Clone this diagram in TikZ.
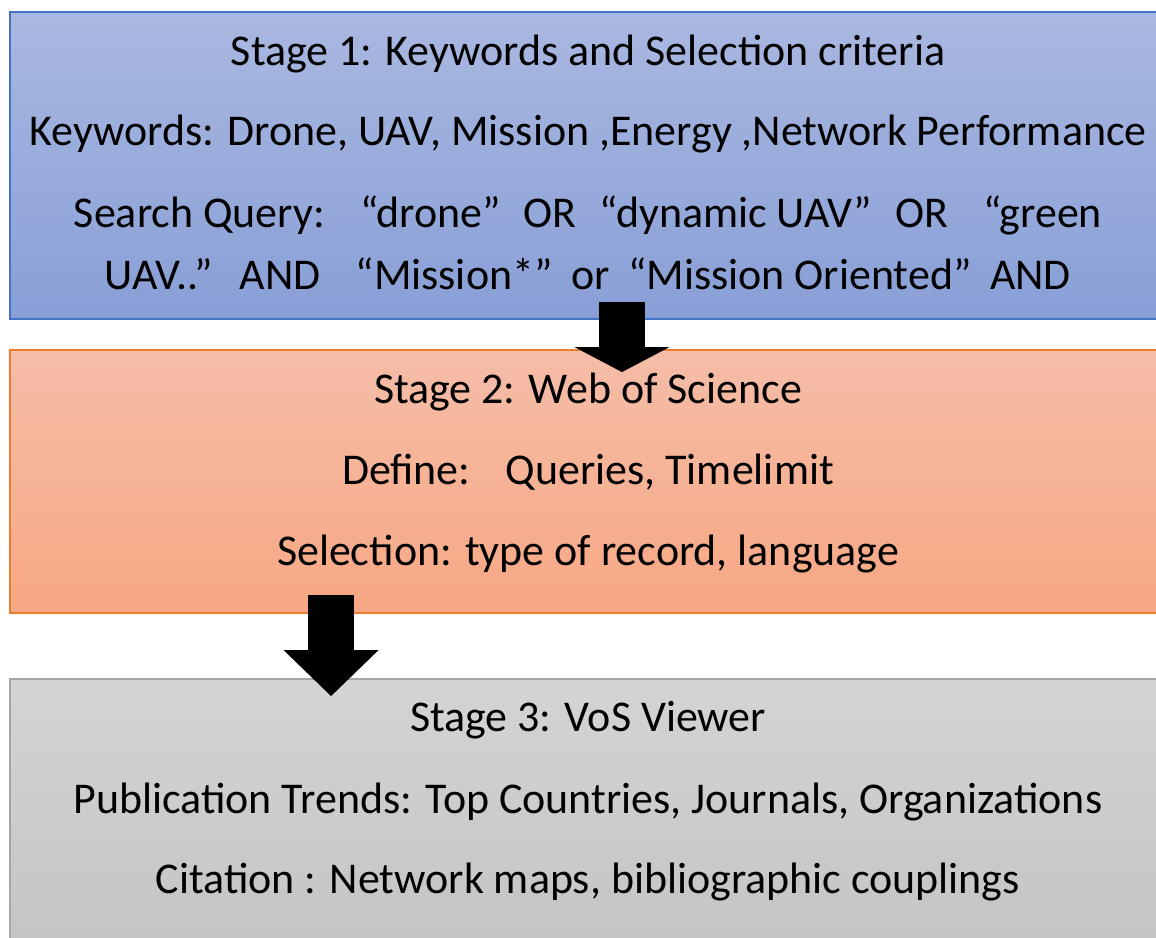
\documentclass[tikz,border=0pt]{standalone}
\usepackage{fontspec}
\setmainfont{Carlito}
\usepackage{tikz}
\usetikzlibrary{arrows.meta, positioning}
\definecolor{stageBline}{HTML}{4472C4}
\definecolor{stageBtop}{HTML}{AAB8E1}
\definecolor{stageBbot}{HTML}{889FD6}
\definecolor{stageOline}{HTML}{ED7D31}
\definecolor{stageOtop}{HTML}{F5BDA8}
\definecolor{stageObot}{HTML}{F7A783}
\definecolor{stageGline}{HTML}{A5A5A5}
\definecolor{stageGtop}{HTML}{D4D4D4}
\definecolor{stageGbot}{HTML}{C4C4C4}

\begin{document}
\begin{tikzpicture}[x=0.02cm, y=-0.02cm,
    stagebox/.style = {rectangle, line width=1.1pt, inner sep=0pt, minimum width=23.12cm},
    stagetext/.style = {anchor=base, inner sep=0pt, font=\fontsize{25}{30}\selectfont},
    blockarrow/.style = {line width=0.92cm, -{Triangle[length=#1, width=1.9cm, line width=0pt]}}]
  \def\boxX{588}
  \def\gapA{\hspace{0.8em}}

  \useasboundingbox (0, 0) rectangle (1156, 937);

  % ------------------------
  % stage boxes
  % ------------------------

  \node[stagebox, draw = stageBline, top color = stageBtop, bottom color = stageBbot,
        minimum height = 6.14cm] (stage1) at (\boxX, 165.5) {};
  \node[stagebox, draw = stageOline, top color = stageOtop, bottom color = stageObot,
        minimum height = 5.26cm] (stage2) at (\boxX, 481.5) {};
  \node[stagebox, draw = stageGline, top color = stageGtop, bottom color = stageGbot,
        minimum height = 5.40cm] (stage3) at (\boxX, 814) {};

  % ------------------------
  % stage texts
  % ------------------------

  \node[stagetext] (s1title) at (\boxX, 65) {Stage 1: Keywords and Selection criteria};
  \node[stagetext] (s1keys) at (\boxX, 145) {Keywords: Drone, UAV, Mission ,Energy ,Network Performance};
  \node[stagetext] (s1queryA) at (\boxX, 227)
    {Search Query:\gapA “drone”\hspace{0.3em} OR\hspace{0.3em} “dynamic UAV”\hspace{0.3em} OR\gapA “green};
  \node[stagetext] (s1queryB) at (\boxX, 289)
    {UAV..”\hspace{0.3em} AND\gapA “Mission*”\hspace{0.2em} or\hspace{0.2em} “Mission Oriented”\hspace{0.2em} AND};

  \node[stagetext] (s2title) at (\boxX, 403) {Stage 2: Web of Science};
  \node[stagetext] (s2define) at (\boxX, 484) {Define:\gapA Queries, Timelimit};
  \node[stagetext] (s2select) at (\boxX, 565) {Selection: type of record, language};

  \node[stagetext] (s3title) at (\boxX, 731) {Stage 3: VoS Viewer};
  \node[stagetext] (s3trends) at (\boxX, 813) {Publication Trends: Top Countries, Journals, Organizations};
  \node[stagetext] (s3cite) at (\boxX, 893) {Citation : Network maps, bibliographic couplings};

  % ------------------------
  % block arrows
  % ------------------------

  \draw[blockarrow = 0.5cm] ([xshift = 0.68cm, yshift = 0.36cm]stage1.south)
    to ([xshift = 0.68cm, yshift = -0.46cm]stage2.north);
  \draw[blockarrow = 0.92cm] ([xshift = -5.14cm, yshift = 0.38cm]stage2.south)
    to ([xshift = -5.14cm, yshift = -0.36cm]stage3.north);
\end{tikzpicture}
\end{document}
